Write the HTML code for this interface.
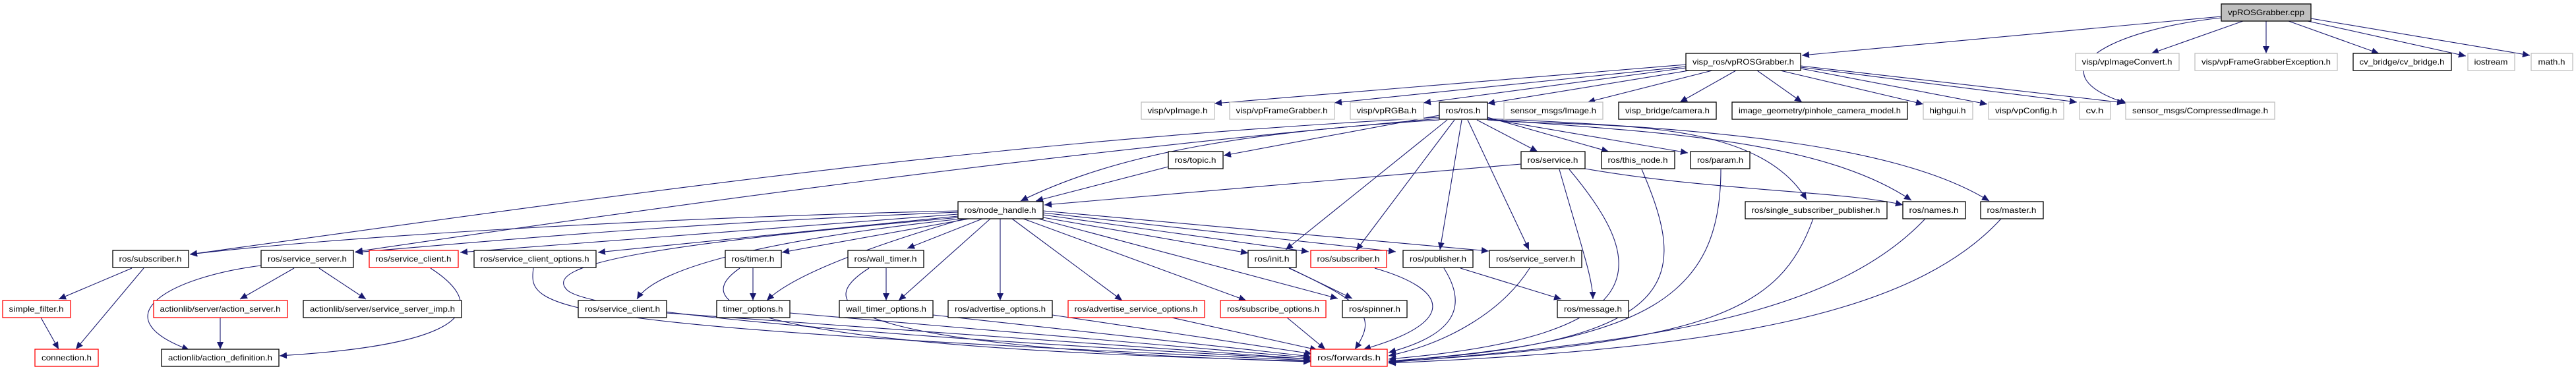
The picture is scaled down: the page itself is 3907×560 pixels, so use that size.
<!DOCTYPE html>
<html><head><meta charset="utf-8"><style>
html,body{margin:0;padding:0;background:#fff;}
svg{display:block;}
text{font-family:"Liberation Sans",sans-serif;font-size:12px;fill:#000;}
</style></head><body>
<svg width="3907" height="560" viewBox="0 0 3907 560" xmlns="http://www.w3.org/2000/svg">
<defs>
<marker id="a" markerUnits="userSpaceOnUse" markerWidth="12" markerHeight="10" refX="11" refY="5" orient="auto">
<path d="M0,0 L11,5 L0,10 Z" fill="#191970"/>
</marker>
</defs>
<g fill="none" stroke="#191970" stroke-width="1.1" marker-end="url(#a)">
<!-- cpp -->
<path d="M3369,25 L2733,84"/>
<path d="M3369,27 C3200,45 3080,110 3226,157"/>
<path d="M3402,32 L3263,81"/>
<path d="M3437,32 L3437,81"/>
<path d="M3471,32 L3608,81"/>
<path d="M3500,32 L3740,85"/>
<path d="M3505,28 L3837,84"/>
<!-- vpROSGrabber.h -->
<path d="M2557,98 L1842,157"/>
<path d="M2557,101 L2024,156"/>
<path d="M2557,103 L2159,156"/>
<path d="M2562,107 L2256,157"/>
<path d="M2597,107 L2408,155"/>
<path d="M2633,107 L2548,155"/>
<path d="M2665,107 L2733,155"/>
<path d="M2700,107 L2917,158"/>
<path d="M2731,104 L3014,158"/>
<path d="M2731,102 L3150,155"/>
<path d="M2731,100 L3222,156"/>
<!-- ros.h -->
<path d="M2183,182 C1900,200 1700,230 1548,305"/>
<path d="M1772,253 L1571,305"/>
<path d="M2183,175 L1856,236"/>
<path d="M2307,249 L1584,311"/>
<path d="M2240,182 L2332,230"/>
<path d="M2256,178 L2440,230"/>
<path d="M2256,180 L2560,232"/>
<path d="M2256,182 C2400,195 2660,170 2740,303"/>
<path d="M2256,181 C2500,200 2760,210 2899,304"/>
<path d="M2256,180 C2600,195 2880,220 3017,305"/>
<path d="M2183,178 C1500,215 1000,287 288,386"/>
<path d="M2183,180 C1600,230 1000,314 539,382"/>
<path d="M2195,182 L1950,379"/>
<path d="M2206,182 L2057,380"/>
<path d="M2217,182 L2184,379"/>
<path d="M2226,182 L2319,379"/>
<path d="M2404,256 C2600,290 2800,290 2886,311"/>
<path d="M2365,257 C2400,380 2415,420 2416,454"/>
<!-- node_handle -->
<path d="M1453,320 C1000,330 500,360 288,386"/>
<path d="M1453,322 C1000,340 700,370 539,383"/>
<path d="M1453,325 L698,383"/>
<path d="M1453,328 L907,383"/>
<path d="M1458,332 C1200,360 1000,400 966,454"/>
<path d="M1470,332 L1186,383"/>
<path d="M1490,332 L1376,377"/>
<path d="M1462,332 C1300,380 1200,420 1163,456"/>
<path d="M1502,332 L1363,456"/>
<path d="M1517,332 L1517,456"/>
<path d="M1535,332 L1702,456"/>
<path d="M1552,332 L1890,456"/>
<path d="M1582,330 L1893,384"/>
<path d="M1582,326 L1985,382"/>
<path d="M1582,323 L2117,382"/>
<path d="M1582,320 L2258,381"/>
<path d="M1575,332 L2029,453"/>
<path d="M1455,330 C1000,370 820,400 860,440 C900,480 1500,520 1988,545"/>
<!-- row6 -->
<path d="M200,407 L89,454"/>
<path d="M218,407 L115,530"/>
<path d="M62,482 L89,530"/>
<path d="M446,407 L364,454"/>
<path d="M484,407 L555,454"/>
<path d="M396,403 C260,420 150,480 287,531"/>
<path d="M334,482 L334,530"/>
<path d="M653,407 C720,450 760,520 424,540"/>
<path d="M809,407 C800,470 820,495 1988,547"/>
<path d="M1122,407 C1060,450 1040,525 1988,548"/>
<path d="M1142,407 L1142,456"/>
<path d="M1318,407 C1250,450 1200,525 1988,549"/>
<path d="M1344,407 L1344,456"/>
<path d="M1011,475 L1988,545"/>
<path d="M1198,475 L1988,543"/>
<path d="M1415,478 L1988,541"/>
<path d="M1596,478 L1990,537"/>
<path d="M1777,482 L1998,531"/>
<path d="M1952,482 L2010,530"/>
<path d="M1956,407 L2051,453"/>
<path d="M1955,407 C2070,460 2090,480 2055,530"/>
<path d="M2085,407 C2200,440 2210,490 2068,530"/>
<path d="M2190,407 C2230,470 2200,510 2106,535"/>
<path d="M2215,407 L2368,454"/>
<path d="M2320,407 C2280,470 2200,520 2106,540"/>
<path d="M2380,257 C2500,400 2520,510 2106,545"/>
<path d="M2490,257 C2560,420 2560,520 2106,548"/>
<path d="M2610,257 C2610,450 2500,520 2106,548"/>
<path d="M2750,332 C2700,470 2600,520 2106,549"/>
<path d="M2920,332 C2780,480 2500,520 2106,550"/>
<path d="M3035,332 C2900,480 2600,530 2106,551"/>
</g>
<g stroke-width="1.3">
<!-- nodes: rect + text -->
<rect x="3369" y="6" width="136" height="26" fill="#bfbfbf" stroke="#000"/><text x="3437" y="23" text-anchor="middle" textLength="116" lengthAdjust="spacingAndGlyphs">vpROSGrabber.cpp</text>
<rect x="2557" y="81" width="174" height="26" fill="#fff" stroke="#000"/><text x="2644" y="98" text-anchor="middle" textLength="154" lengthAdjust="spacingAndGlyphs">visp_ros/vpROSGrabber.h</text>
<rect x="3148" y="81" width="157" height="26" fill="#fff" stroke="#bfbfbf"/><text x="3226" y="98" text-anchor="middle" textLength="137" lengthAdjust="spacingAndGlyphs">visp/vpImageConvert.h</text>
<rect x="3329" y="81" width="216" height="26" fill="#fff" stroke="#bfbfbf"/><text x="3437" y="98" text-anchor="middle" textLength="196" lengthAdjust="spacingAndGlyphs">visp/vpFrameGrabberException.h</text>
<rect x="3569" y="81" width="149" height="26" fill="#fff" stroke="#000"/><text x="3643" y="98" text-anchor="middle" textLength="129" lengthAdjust="spacingAndGlyphs">cv_bridge/cv_bridge.h</text>
<rect x="3743" y="81" width="71" height="26" fill="#fff" stroke="#bfbfbf"/><text x="3778" y="98" text-anchor="middle" textLength="51" lengthAdjust="spacingAndGlyphs">iostream</text>
<rect x="3839" y="81" width="63" height="26" fill="#fff" stroke="#bfbfbf"/><text x="3870" y="98" text-anchor="middle" textLength="41" lengthAdjust="spacingAndGlyphs">math.h</text>

<rect x="1731" y="155" width="111" height="26" fill="#fff" stroke="#bfbfbf"/><text x="1786" y="172" text-anchor="middle" textLength="91" lengthAdjust="spacingAndGlyphs">visp/vpImage.h</text>
<rect x="1865" y="155" width="159" height="26" fill="#fff" stroke="#bfbfbf"/><text x="1944" y="172" text-anchor="middle" textLength="139" lengthAdjust="spacingAndGlyphs">visp/vpFrameGrabber.h</text>
<rect x="2048" y="155" width="111" height="26" fill="#fff" stroke="#bfbfbf"/><text x="2103" y="172" text-anchor="middle" textLength="91" lengthAdjust="spacingAndGlyphs">visp/vpRGBa.h</text>
<rect x="2183" y="155" width="73" height="26" fill="#fff" stroke="#000"/><text x="2219" y="172" text-anchor="middle" textLength="53" lengthAdjust="spacingAndGlyphs">ros/ros.h</text>
<rect x="2281" y="155" width="150" height="26" fill="#fff" stroke="#bfbfbf"/><text x="2356" y="172" text-anchor="middle" textLength="130" lengthAdjust="spacingAndGlyphs">sensor_msgs/Image.h</text>
<rect x="2455" y="155" width="148" height="26" fill="#fff" stroke="#000"/><text x="2529" y="172" text-anchor="middle" textLength="128" lengthAdjust="spacingAndGlyphs">visp_bridge/camera.h</text>
<rect x="2627" y="155" width="266" height="26" fill="#fff" stroke="#000"/><text x="2760" y="172" text-anchor="middle" textLength="246" lengthAdjust="spacingAndGlyphs">image_geometry/pinhole_camera_model.h</text>
<rect x="2917" y="155" width="75" height="26" fill="#fff" stroke="#bfbfbf"/><text x="2954" y="172" text-anchor="middle" textLength="55" lengthAdjust="spacingAndGlyphs">highgui.h</text>
<rect x="3016" y="155" width="114" height="26" fill="#fff" stroke="#bfbfbf"/><text x="3073" y="172" text-anchor="middle" textLength="94" lengthAdjust="spacingAndGlyphs">visp/vpConfig.h</text>
<rect x="3154" y="155" width="47" height="26" fill="#fff" stroke="#bfbfbf"/><text x="3177" y="172" text-anchor="middle" textLength="27" lengthAdjust="spacingAndGlyphs">cv.h</text>
<rect x="3224" y="155" width="226" height="26" fill="#fff" stroke="#bfbfbf"/><text x="3337" y="172" text-anchor="middle" textLength="206" lengthAdjust="spacingAndGlyphs">sensor_msgs/CompressedImage.h</text>

<rect x="1772" y="230" width="83" height="26" fill="#fff" stroke="#000"/><text x="1813" y="247" text-anchor="middle" textLength="63" lengthAdjust="spacingAndGlyphs">ros/topic.h</text>
<rect x="2307" y="230" width="97" height="26" fill="#fff" stroke="#000"/><text x="2355" y="247" text-anchor="middle" textLength="77" lengthAdjust="spacingAndGlyphs">ros/service.h</text>
<rect x="2429" y="230" width="111" height="26" fill="#fff" stroke="#000"/><text x="2484" y="247" text-anchor="middle" textLength="91" lengthAdjust="spacingAndGlyphs">ros/this_node.h</text>
<rect x="2564" y="230" width="90" height="26" fill="#fff" stroke="#000"/><text x="2609" y="247" text-anchor="middle" textLength="70" lengthAdjust="spacingAndGlyphs">ros/param.h</text>

<rect x="1453" y="306" width="129" height="26" fill="#fff" stroke="#000"/><text x="1517" y="323" text-anchor="middle" textLength="109" lengthAdjust="spacingAndGlyphs">ros/node_handle.h</text>
<rect x="2647" y="306" width="215" height="26" fill="#fff" stroke="#000"/><text x="2754" y="323" text-anchor="middle" textLength="195" lengthAdjust="spacingAndGlyphs">ros/single_subscriber_publisher.h</text>
<rect x="2886" y="306" width="95" height="26" fill="#fff" stroke="#000"/><text x="2933" y="323" text-anchor="middle" textLength="75" lengthAdjust="spacingAndGlyphs">ros/names.h</text>
<rect x="3004" y="306" width="95" height="26" fill="#fff" stroke="#000"/><text x="3051" y="323" text-anchor="middle" textLength="75" lengthAdjust="spacingAndGlyphs">ros/master.h</text>

<rect x="171" y="380" width="115" height="26" fill="#fff" stroke="#000"/><text x="228" y="397" text-anchor="middle" textLength="95" lengthAdjust="spacingAndGlyphs">ros/subscriber.h</text>
<rect x="396" y="380" width="140" height="26" fill="#fff" stroke="#000"/><text x="466" y="397" text-anchor="middle" textLength="120" lengthAdjust="spacingAndGlyphs">ros/service_server.h</text>
<rect x="560" y="380" width="135" height="26" fill="#fff" stroke="#ff0000"/><text x="627" y="397" text-anchor="middle" textLength="115" lengthAdjust="spacingAndGlyphs">ros/service_client.h</text>
<rect x="719" y="380" width="185" height="26" fill="#fff" stroke="#000"/><text x="811" y="397" text-anchor="middle" textLength="165" lengthAdjust="spacingAndGlyphs">ros/service_client_options.h</text>
<rect x="1100" y="380" width="85" height="26" fill="#fff" stroke="#000"/><text x="1142" y="397" text-anchor="middle" textLength="65" lengthAdjust="spacingAndGlyphs">ros/timer.h</text>
<rect x="1286" y="380" width="115" height="26" fill="#fff" stroke="#000"/><text x="1343" y="397" text-anchor="middle" textLength="95" lengthAdjust="spacingAndGlyphs">ros/wall_timer.h</text>
<rect x="1893" y="380" width="73" height="26" fill="#fff" stroke="#000"/><text x="1929" y="397" text-anchor="middle" textLength="53" lengthAdjust="spacingAndGlyphs">ros/init.h</text>
<rect x="1988" y="380" width="115" height="26" fill="#fff" stroke="#ff0000"/><text x="2045" y="397" text-anchor="middle" textLength="95" lengthAdjust="spacingAndGlyphs">ros/subscriber.h</text>
<rect x="2128" y="380" width="106" height="26" fill="#fff" stroke="#000"/><text x="2181" y="397" text-anchor="middle" textLength="86" lengthAdjust="spacingAndGlyphs">ros/publisher.h</text>
<rect x="2259" y="380" width="140" height="26" fill="#fff" stroke="#000"/><text x="2329" y="397" text-anchor="middle" textLength="120" lengthAdjust="spacingAndGlyphs">ros/service_server.h</text>

<rect x="4" y="456" width="103" height="26" fill="#fff" stroke="#ff0000"/><text x="55" y="473" text-anchor="middle" textLength="83" lengthAdjust="spacingAndGlyphs">simple_filter.h</text>
<rect x="233" y="456" width="203" height="26" fill="#fff" stroke="#ff0000"/><text x="334" y="473" text-anchor="middle" textLength="183" lengthAdjust="spacingAndGlyphs">actionlib/server/action_server.h</text>
<rect x="460" y="456" width="240" height="26" fill="#fff" stroke="#000"/><text x="580" y="473" text-anchor="middle" textLength="220" lengthAdjust="spacingAndGlyphs">actionlib/server/service_server_imp.h</text>
<rect x="877" y="456" width="134" height="26" fill="#fff" stroke="#000"/><text x="944" y="473" text-anchor="middle" textLength="114" lengthAdjust="spacingAndGlyphs">ros/service_client.h</text>
<rect x="1087" y="456" width="111" height="26" fill="#fff" stroke="#000"/><text x="1142" y="473" text-anchor="middle" textLength="91" lengthAdjust="spacingAndGlyphs">timer_options.h</text>
<rect x="1273" y="456" width="142" height="26" fill="#fff" stroke="#000"/><text x="1344" y="473" text-anchor="middle" textLength="122" lengthAdjust="spacingAndGlyphs">wall_timer_options.h</text>
<rect x="1438" y="456" width="158" height="26" fill="#fff" stroke="#000"/><text x="1517" y="473" text-anchor="middle" textLength="138" lengthAdjust="spacingAndGlyphs">ros/advertise_options.h</text>
<rect x="1620" y="456" width="207" height="26" fill="#fff" stroke="#ff0000"/><text x="1723" y="473" text-anchor="middle" textLength="187" lengthAdjust="spacingAndGlyphs">ros/advertise_service_options.h</text>
<rect x="1851" y="456" width="160" height="26" fill="#fff" stroke="#ff0000"/><text x="1931" y="473" text-anchor="middle" textLength="140" lengthAdjust="spacingAndGlyphs">ros/subscribe_options.h</text>
<rect x="2036" y="456" width="98" height="26" fill="#fff" stroke="#000"/><text x="2085" y="473" text-anchor="middle" textLength="78" lengthAdjust="spacingAndGlyphs">ros/spinner.h</text>
<rect x="2362" y="456" width="108" height="26" fill="#fff" stroke="#000"/><text x="2416" y="473" text-anchor="middle" textLength="88" lengthAdjust="spacingAndGlyphs">ros/message.h</text>

<rect x="53" y="530" width="96" height="26" fill="#fff" stroke="#ff0000"/><text x="101" y="547" text-anchor="middle" textLength="76" lengthAdjust="spacingAndGlyphs">connection.h</text>
<rect x="245" y="530" width="178" height="26" fill="#fff" stroke="#000"/><text x="334" y="547" text-anchor="middle" textLength="158" lengthAdjust="spacingAndGlyphs">actionlib/action_definition.h</text>
<rect x="1988" y="530" width="116" height="26" fill="#fff" stroke="#ff0000"/><text x="2046" y="547" text-anchor="middle" textLength="96" lengthAdjust="spacingAndGlyphs">ros/forwards.h</text>
</g>
</svg>
</body></html>
